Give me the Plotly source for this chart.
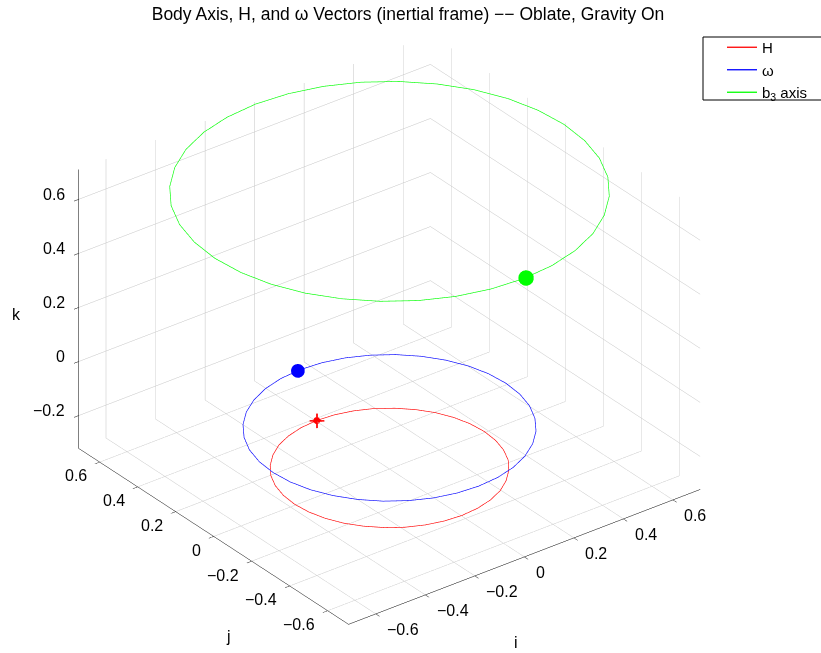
import plotly.graph_objects as go

# ---- data (tips of H, omega and b3 in the inertial frame) ----
H_i = [0.383, 0.377, 0.360, 0.332, 0.293, 0.246, 0.192, 0.131, 0.067, 0.000,
       -0.067, -0.131, -0.192, -0.246, -0.293, -0.332, -0.360, -0.377, -0.383,
       -0.377, -0.360, -0.332, -0.293, -0.246, -0.192, -0.131, -0.067, 0.000,
       0.067, 0.131, 0.192, 0.246, 0.293, 0.332, 0.360, 0.377, 0.383]
H_j = [0.000, 0.067, 0.131, 0.192, 0.246, 0.293, 0.332, 0.360, 0.377, 0.383,
       0.377, 0.360, 0.332, 0.293, 0.246, 0.192, 0.131, 0.067, 0.000,
       -0.067, -0.131, -0.192, -0.246, -0.293, -0.332, -0.360, -0.377, -0.383,
       -0.377, -0.360, -0.332, -0.293, -0.246, -0.192, -0.131, -0.067, 0.000]
H_k = [-0.318] * 37

W_i = [0.470, 0.463, 0.442, 0.407, 0.360, 0.302, 0.235, 0.161, 0.082, 0.000,
       -0.082, -0.161, -0.235, -0.302, -0.360, -0.407, -0.442, -0.463, -0.470,
       -0.463, -0.442, -0.407, -0.360, -0.302, -0.235, -0.161, -0.082, 0.000,
       0.082, 0.161, 0.235, 0.302, 0.360, 0.407, 0.442, 0.463, 0.470]
W_j = [0.000, 0.082, 0.161, 0.235, 0.302, 0.360, 0.407, 0.442, 0.463, 0.470,
       0.463, 0.442, 0.407, 0.360, 0.302, 0.235, 0.161, 0.082, 0.000,
       -0.082, -0.161, -0.235, -0.302, -0.360, -0.407, -0.442, -0.463, -0.470,
       -0.463, -0.442, -0.407, -0.360, -0.302, -0.235, -0.161, -0.082, 0.000]
W_k = [-0.17] * 37

B_i = [0.705, 0.694, 0.663, 0.611, 0.540, 0.453, 0.353, 0.241, 0.123, 0.000,
       -0.123, -0.241, -0.353, -0.453, -0.540, -0.611, -0.663, -0.694, -0.705,
       -0.694, -0.663, -0.611, -0.540, -0.453, -0.353, -0.241, -0.123, 0.000,
       0.123, 0.241, 0.353, 0.453, 0.540, 0.611, 0.663, 0.694, 0.705]
B_j = [0.000, 0.123, 0.241, 0.353, 0.453, 0.540, 0.611, 0.663, 0.694, 0.705,
       0.694, 0.663, 0.611, 0.540, 0.453, 0.353, 0.241, 0.123, 0.000,
       -0.123, -0.241, -0.353, -0.453, -0.540, -0.611, -0.663, -0.694, -0.705,
       -0.694, -0.663, -0.611, -0.540, -0.453, -0.353, -0.241, -0.123, 0.000]
B_k = [0.705] * 37

# current tip positions (markers): H, omega, b3
tip_i = [0.00, -0.01, 0.01]
tip_j = [0.383, 0.47, -0.705]
tip_k = [-0.318, -0.17, 0.705]

# axes
i_range = [-0.71, 0.71]
j_range = [-0.71, 0.71]
k_range = [-0.322, 0.71]
i_ticks = [-0.6, -0.4, -0.2, 0.0, 0.2, 0.4, 0.6]
j_ticks = [-0.6, -0.4, -0.2, 0.0, 0.2, 0.4, 0.6]
k_ticks = [-0.2, 0.0, 0.2, 0.4, 0.6]

names = ["H", "ω", "b<sub>3</sub> axis"]
colors = ["#ff0000", "#0000ff", "#00ff00"]

FONT = "Liberation Sans, Arial, Helvetica, sans-serif"
ZOOM = 1.37


def tl(v):
    if abs(v) < 1e-9:
        return "0"
    s = f"{abs(v):g}"
    return ("\u2212" + s) if v < 0 else s


fig = go.Figure()
for xs, ys, zs, nm, c in [(H_i, H_j, H_k, names[0], colors[0]),
                          (W_i, W_j, W_k, names[1], colors[1]),
                          (B_i, B_j, B_k, names[2], colors[2])]:
    fig.add_trace(go.Scatter3d(x=xs, y=ys, z=zs, mode="lines", name=nm,
                               line=dict(color=c, width=1.3), hoverinfo="skip"))

# tip markers
fig.add_trace(go.Scatter3d(x=[tip_i[0]], y=[tip_j[0]], z=[tip_k[0]], mode="markers",
                           marker=dict(color=colors[0], size=8, symbol="cross"),
                           showlegend=False, hoverinfo="skip"))
fig.add_trace(go.Scatter3d(x=[tip_i[0]], y=[tip_j[0]], z=[tip_k[0]], mode="markers",
                           marker=dict(color=colors[0], size=4, symbol="circle"),
                           showlegend=False, hoverinfo="skip"))
fig.add_trace(go.Scatter3d(x=[tip_i[1]], y=[tip_j[1]], z=[tip_k[1]], mode="markers",
                           marker=dict(color=colors[1], size=8, symbol="circle"),
                           showlegend=False, hoverinfo="skip"))
fig.add_trace(go.Scatter3d(x=[tip_i[2]], y=[tip_j[2]], z=[tip_k[2]], mode="markers",
                           marker=dict(color=colors[2], size=9, symbol="circle"),
                           showlegend=False, hoverinfo="skip"))


def ax(rng, ticks):
    return dict(title=dict(text=""), range=rng, tickvals=ticks, autorange=False,
                showticklabels=False,
                showbackground=False, showgrid=True, gridcolor="#c4c4c4", gridwidth=1,
                zeroline=False, showline=True, linecolor="black", linewidth=1,
                ticks="outside", tickcolor="black", ticklen=6,
                showspikes=False)


# tick labels and axis titles as scene annotations (anchored to 3D points)
ann = []
tf = dict(size=16, color="black", family=FONT)
for v in i_ticks:
    ann.append(dict(x=v, y=j_range[0], z=k_range[0], text=tl(v), showarrow=False,
                    xanchor="left", yanchor="middle", xshift=9, yshift=-16, font=tf))
for v in j_ticks:
    ann.append(dict(x=i_range[0], y=v, z=k_range[0], text=tl(v), showarrow=False,
                    xanchor="right", yanchor="middle", xshift=-11, yshift=-14, font=tf))
for v in k_ticks:
    ann.append(dict(x=i_range[0], y=j_range[1], z=v, text=tl(v), showarrow=False,
                    xanchor="right", yanchor="middle", xshift=-12, yshift=5, font=tf))
ann.append(dict(x=0, y=j_range[0], z=k_range[0], text="i", showarrow=False,
                xanchor="center", yanchor="middle", xshift=-9, yshift=-86, font=tf))
ann.append(dict(x=i_range[0], y=0, z=k_range[0], text="j", showarrow=False,
                xanchor="center", yanchor="middle", xshift=15, yshift=-100, font=tf))
ann.append(dict(x=i_range[0], y=j_range[1], z=(k_range[0] + k_range[1]) / 2, text="k",
                showarrow=False, xanchor="center", yanchor="middle", xshift=-62, yshift=-6,
                font=tf))

fig.update_layout(
    width=821, height=653,
    margin=dict(l=0, r=0, t=0, b=0),
    paper_bgcolor="white",
    font=dict(family=FONT, size=16, color="black"),
    title=dict(text="Body Axis, H, and ω Vectors (inertial frame) −− Oblate, Gravity On",
               x=0.497, xanchor="center", y=1 - 14 / 653, yanchor="middle",
               font=dict(size=17.5, color="black", family=FONT)),
    legend=dict(x=722 / 821, y=1 - 31 / 653, xanchor="left", yanchor="top",
                borderwidth=0, bgcolor="rgba(0,0,0,0)",
                font=dict(size=15, color="black", family=FONT), tracegroupgap=0),
    shapes=[dict(type="rect", xref="paper", yref="paper",
                 x0=703 / 821, x1=1.01, y0=1 - 100 / 653, y1=1 - 37 / 653,
                 line=dict(color="black", width=1), fillcolor="white", layer="below")],
    scene=dict(
        domain=dict(x=[0, 0.9494], y=[0, 0.9914]),
        xaxis=ax(i_range, i_ticks),
        yaxis=ax(j_range, j_ticks),
        zaxis=ax(k_range, k_ticks),
        aspectmode="manual",
        aspectratio=dict(x=ZOOM, y=ZOOM,
                         z=ZOOM * (k_range[1] - k_range[0]) / (i_range[1] - i_range[0])),
        camera=dict(projection=dict(type="orthographic"),
                    up=dict(x=0, y=0, z=1), center=dict(x=0, y=0, z=0),
                    eye=dict(x=-0.527 * 1.5, y=-0.687 * 1.5, z=0.5 * 1.5)),
        annotations=ann,
    ),
)

fig.write_html("out.html", config={"displayModeBar": False})
